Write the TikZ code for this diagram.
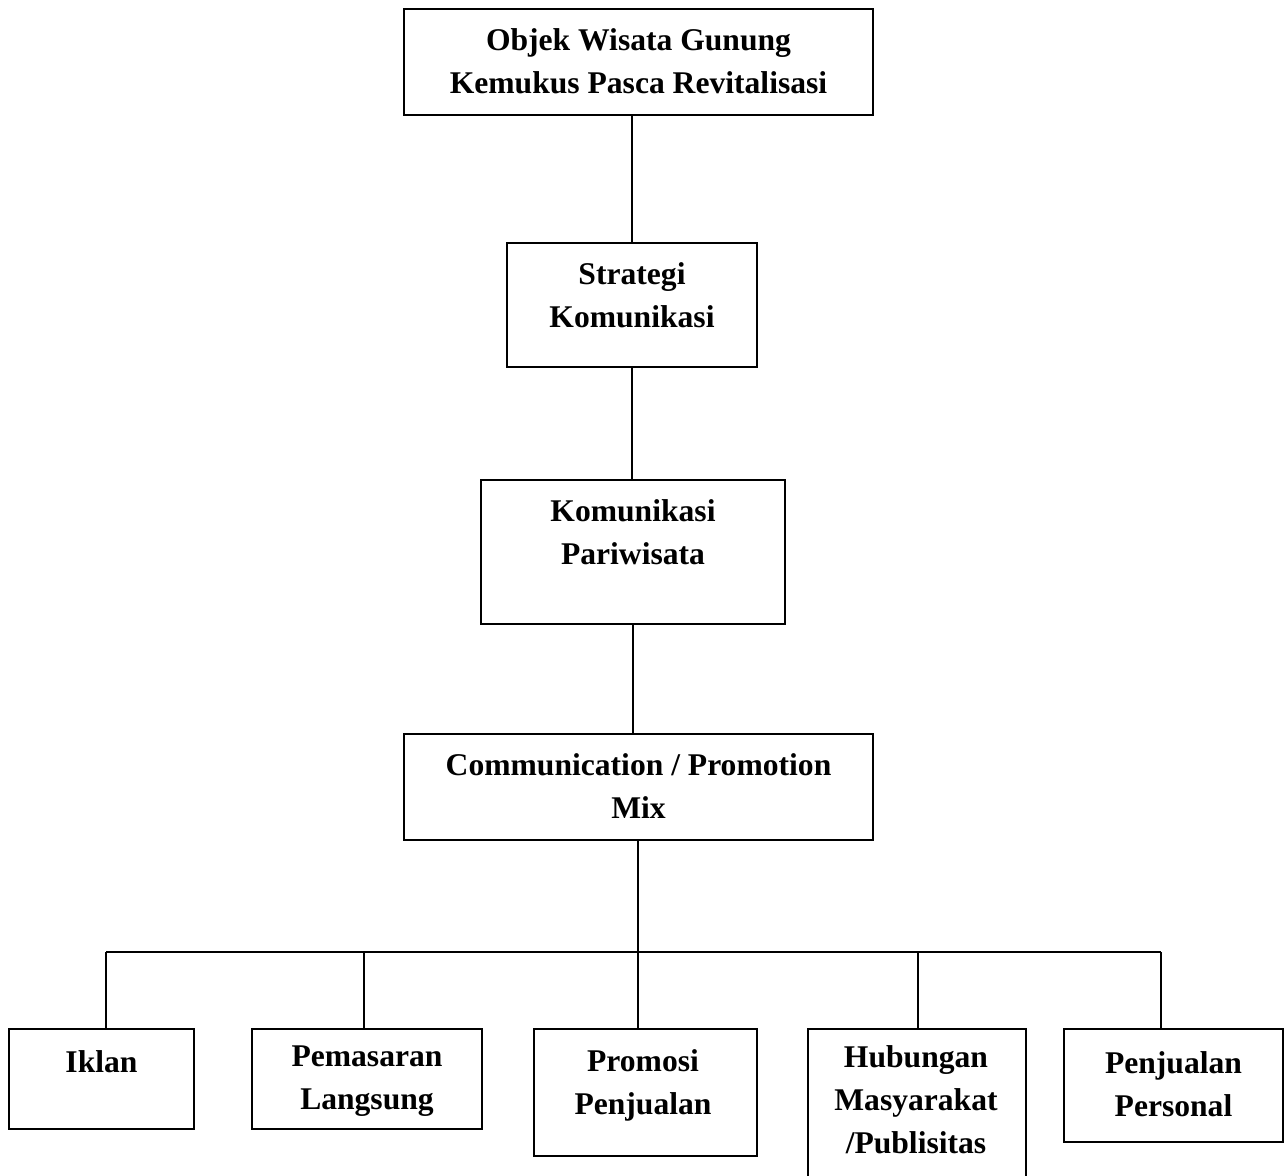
\documentclass[tikz,border=0pt]{standalone}
\usepackage{fontspec}
\setmainfont{Liberation Serif}

\begin{document}
\begin{tikzpicture}[x=0.5pt, y=-0.5pt,
    box/.style={draw, line width=0.6pt, inner sep=0pt},
    lbl/.style={align=center, inner sep=0pt, font=\bfseries\fontsize{15.8}{21.5}\selectfont},
    link/.style={line width=0.9pt}]
  \useasboundingbox (0,0) rectangle (1286,1176);

  % Main chain
  \node[box, minimum width=234.5pt, minimum height=53pt] (obj) at (638.5,62) {};
  \node[lbl] (objtxt) at (638.5,61.5) {Objek Wisata Gunung\\Kemukus Pasca Revitalisasi};

  \node[box, minimum width=125pt, minimum height=62pt] (strat) at (632,305) {};
  \node[lbl] (strattxt) at (632,295) {Strategi\\Komunikasi};

  \node[box, minimum width=152pt, minimum height=72pt] (kp) at (633,552) {};
  \node[lbl] (kptxt) at (633,532.5) {Komunikasi\\Pariwisata};

  \node[box, minimum width=234.5pt, minimum height=53pt] (mix) at (638.5,787) {};
  \node[lbl] (mixtxt) at (638.5,786.5) {Communication / Promotion\\Mix};

  % Promotion mix elements
  \node[box, minimum width=92.5pt, minimum height=50pt] (iklan) at (101.5,1079) {};
  \node[lbl] (iklantxt) at (101.5,1062) {Iklan};

  \node[box, minimum width=115pt, minimum height=50pt] (pem) at (367,1079) {};
  \node[lbl] (pemtxt) at (367,1081.5) {Pemasaran\\Langsung};

  \node[box, minimum width=111.5pt, minimum height=63.5pt] (promo) at (645.5,1092.5) {};
  \node[lbl] (promotxt) at (643,1085.5) {Promosi\\Penjualan};

  \node[box, minimum width=109pt, minimum height=83pt] (hub) at (917,1112) {};
  \node[lbl] (hubtxt) at (916,1100) {Hubungan\\Masyarakat\\/Publisitas};

  \node[box, minimum width=109.5pt, minimum height=56.5pt] (pers) at (1173.5,1085.5) {};
  \node[lbl] (perstxt) at (1173.5,1084) {Penjualan\\Personal};

  % Connectors
  \draw[link] (obj.south -| strat.north) -- (strat.north);
  \draw[link] (strat.south) -- (strat.south |- kp.north);
  \draw[link] (kp.south) -- (kp.south |- mix.north);

  \coordinate (busL) at (106,952);
  \coordinate (busR) at (1161,952);
  \draw[link] (busL) -- (busR);

  \foreach \x/\n in {106/iklan, 364/pem, 638/promo, 918/hub, 1161/pers}{
    \coordinate (top-\n) at (\x,952);
    \draw[link] (top-\n) -- (top-\n |- \n.north);
  }
  \draw[link] (mix.south -| top-promo) -- (top-promo);
\end{tikzpicture}
\end{document}
